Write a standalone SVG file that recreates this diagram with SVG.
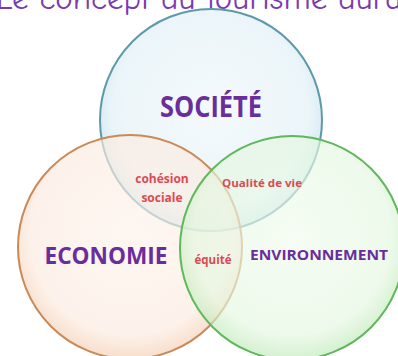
<svg xmlns="http://www.w3.org/2000/svg" width="398" height="356" viewBox="0 0 398 356">
  <defs>
    <radialGradient id="gBlue" cx="50%" cy="45%" r="55%">
      <stop offset="0%" stop-color="#eef6fa"/>
      <stop offset="80%" stop-color="#e1f0f6"/>
      <stop offset="100%" stop-color="#b5dae5"/>
    </radialGradient>
    <radialGradient id="gOrange" cx="50%" cy="45%" r="55%">
      <stop offset="0%" stop-color="#fdf2ea"/>
      <stop offset="80%" stop-color="#fcebe0"/>
      <stop offset="100%" stop-color="#f4cdb0"/>
    </radialGradient>
    <radialGradient id="gGreen" cx="50%" cy="45%" r="55%">
      <stop offset="0%" stop-color="#f0fbee"/>
      <stop offset="80%" stop-color="#e4f7e0"/>
      <stop offset="100%" stop-color="#bce9b5"/>
    </radialGradient>
  </defs>
  <style>
    .circ { stroke-width: 2; fill-opacity: 0.65; }
    .main { font-family: "Open Sans", "Noto Sans", "DejaVu Sans", sans-serif; font-weight: bold; fill: #6a2d9c; text-anchor: middle; }
    .small { font-family: "Open Sans", "Noto Sans", "DejaVu Sans", sans-serif; font-weight: bold; fill: #dc4a52; text-anchor: middle; }
    .title { font-family: "Comic Neue", "Open Sans", "DejaVu Sans", sans-serif; fill: #7a3bb0; }
  </style>
  <rect width="398" height="356" fill="#ffffff"/>
  <text class="title" x="-4" y="9" font-size="32" textLength="406" lengthAdjust="spacingAndGlyphs">Le concept du tourisme dura</text>
  <g id="circles">
    <g id="societe-circle">
      <circle class="circ" cx="211" cy="120" r="111" fill="url(#gBlue)" stroke="#5c9aaa"/>
    </g>
    <g id="economie-circle">
      <circle class="circ" cx="130" cy="247" r="112" fill="url(#gOrange)" stroke="#c98a58"/>
    </g>
    <g id="environnement-circle">
      <circle class="circ" cx="292" cy="248" r="112" fill="url(#gGreen)" stroke="#5fb85c"/>
    </g>
  </g>
  <g id="labels">
    <g id="societe"><text class="main" x="211" y="117" font-size="28" textLength="102" lengthAdjust="spacingAndGlyphs">SOCIÉTÉ</text></g>
    <g id="economie"><text class="main" x="106" y="264" font-size="24" textLength="123" lengthAdjust="spacingAndGlyphs">ECONOMIE</text></g>
    <g id="environnement"><text class="main" x="319" y="260" font-size="15" textLength="138" lengthAdjust="spacingAndGlyphs">ENVIRONNEMENT</text></g>
    <g id="cohesion"><text class="small" x="162" y="183" font-size="12">cohésion</text><text class="small" x="162" y="202" font-size="12">sociale</text></g>
    <g id="qualite"><text class="small" x="262" y="187" font-size="11" textLength="80" lengthAdjust="spacingAndGlyphs">Qualité de vie</text></g>
    <g id="equite"><text class="small" x="213" y="264" font-size="11.5">équité</text></g>
  </g>
</svg>
